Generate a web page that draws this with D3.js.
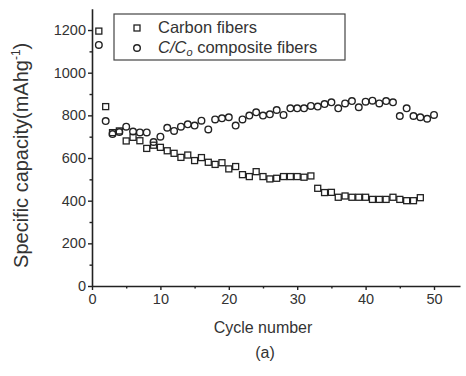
<!DOCTYPE html>
<html>
<head>
<meta charset="utf-8">
<script src="https://cdn.jsdelivr.net/npm/d3@7"></script>
<style>
  html, body { margin: 0; padding: 0; background: #fff; }
  svg { display: block; font-family: "Liberation Sans", Arial, sans-serif; }
</style>
</head>
<body>
<svg id="chart" width="466" height="376"></svg>
<script>
// Specific capacity vs. cycle number for two fiber electrodes
const carbonCycles = d3.range(1, 49);
const carbonValues = [
  1195, 841, 719, 727, 680, 697, 681, 645, 660, 650,
  634, 622, 603, 614, 588, 602, 580, 570, 578, 549,
  560, 522, 513, 536, 513, 502, 505, 513, 513, 513,
  510, 516, 458, 438, 439, 416, 422, 416, 416, 416,
  406, 406, 406, 416, 406, 400, 400, 414
];
const compositeCycles = d3.range(1, 51);
const compositeValues = [
  1130, 773, 712, 722, 747, 724, 720, 720, 675, 700,
  742, 727, 747, 758, 752, 775, 734, 781, 786, 791,
  752, 781, 799, 814, 799, 805, 825, 802, 833, 833,
  833, 844, 841, 853, 861, 833, 856, 867, 838, 864,
  869, 856, 867, 861, 797, 833, 797, 791, 784, 802
];
const xTicks = [0, 10, 20, 30, 40, 50];
const yTicks = [0, 200, 400, 600, 800, 1000, 1200];

const svg = d3.select("#chart");
const ink = "#222";

const x = d3.scaleLinear().domain([0, 53.8]).range([92, 460]);
const y = d3.scaleLinear().domain([0, 1300]).range([286, 8.7]);

// Axes: left and bottom only, outward ticks with minor ticks between
svg.append("g").attr("transform", `translate(0,${y(0)})`)
  .call(d3.axisBottom(x).tickValues(xTicks).tickFormat(d3.format("d"))
    .tickSize(4).tickPadding(4).tickSizeOuter(0));
svg.append("g").attr("transform", `translate(0,${y(0)})`)
  .call(d3.axisBottom(x).tickValues([5, 15, 25, 35, 45]).tickSize(2.5).tickFormat("").tickSizeOuter(0))
  .select(".domain").remove();
svg.append("g").attr("transform", `translate(${x(0)},0)`)
  .call(d3.axisLeft(y).tickValues(yTicks).tickFormat(d3.format("d"))
    .tickSize(4).tickPadding(2).tickSizeOuter(0));
svg.append("g").attr("transform", `translate(${x(0)},0)`)
  .call(d3.axisLeft(y).tickValues([100, 300, 500, 700, 900, 1100]).tickSize(2.5).tickFormat("").tickSizeOuter(0))
  .select(".domain").remove();

svg.selectAll(".domain").attr("stroke", ink).attr("stroke-width", 1.6);
svg.selectAll(".tick line").attr("stroke", ink).attr("stroke-width", 1.4);
svg.selectAll(".tick text").attr("fill", "#333").attr("font-size", 14.5)
  .attr("font-family", "\"Liberation Sans\", Arial, sans-serif");

// Axis titles
svg.append("text")
  .attr("transform", `translate(28,${(y(0) + y(1300)) / 2 + 8}) rotate(-90)`)
  .attr("text-anchor", "middle").attr("fill", "#333").attr("font-size", 20)
  .html('Specific capacity(mAhg<tspan dy="-8" font-size="12">-1</tspan><tspan dy="8">)</tspan>');
svg.append("text").attr("x", 263).attr("y", 333)
  .attr("text-anchor", "middle").attr("fill", "#333").attr("font-size", 16)
  .text("Cycle number");
svg.append("text").attr("x", 265).attr("y", 358)
  .attr("text-anchor", "middle").attr("fill", "#333").attr("font-size", 16)
  .text("(a)");

// Data markers
const sq = 6;
svg.append("g").selectAll("rect")
  .data(carbonCycles.map((c, i) => [c, carbonValues[i]]))
  .join("rect")
  .attr("x", d => x(d[0]) - sq / 2).attr("y", d => y(d[1]) - sq / 2)
  .attr("width", sq).attr("height", sq)
  .attr("fill", "none").attr("stroke", ink).attr("stroke-width", 1.3);

svg.append("g").selectAll("circle")
  .data(compositeCycles.map((c, i) => [c, compositeValues[i]]))
  .join("circle")
  .attr("cx", d => x(d[0])).attr("cy", d => y(d[1])).attr("r", 3.3)
  .attr("fill", "none").attr("stroke", ink).attr("stroke-width", 1.4);

// Legend
const lg = svg.append("g");
lg.append("rect").attr("x", 114).attr("y", 14).attr("width", 231).attr("height", 46)
  .attr("fill", "none").attr("stroke", "#444").attr("stroke-width", 1.2);
lg.append("rect").attr("x", 137 - sq / 2).attr("y", 28 - sq / 2).attr("width", sq).attr("height", sq)
  .attr("fill", "none").attr("stroke", ink).attr("stroke-width", 1.3);
lg.append("circle").attr("cx", 137).attr("cy", 48).attr("r", 3.3)
  .attr("fill", "none").attr("stroke", ink).attr("stroke-width", 1.4);
lg.append("text").attr("x", 158).attr("y", 33).attr("fill", "#333").attr("font-size", 16.5)
  .text("Carbon fibers");
lg.append("text").attr("x", 158).attr("y", 53).attr("fill", "#333").attr("font-size", 16.5)
  .html('<tspan font-style="italic">C/C</tspan><tspan font-style="italic" font-size="11" dy="3">o</tspan><tspan dy="-3"> composite fibers</tspan>');
</script>
</body>
</html>
